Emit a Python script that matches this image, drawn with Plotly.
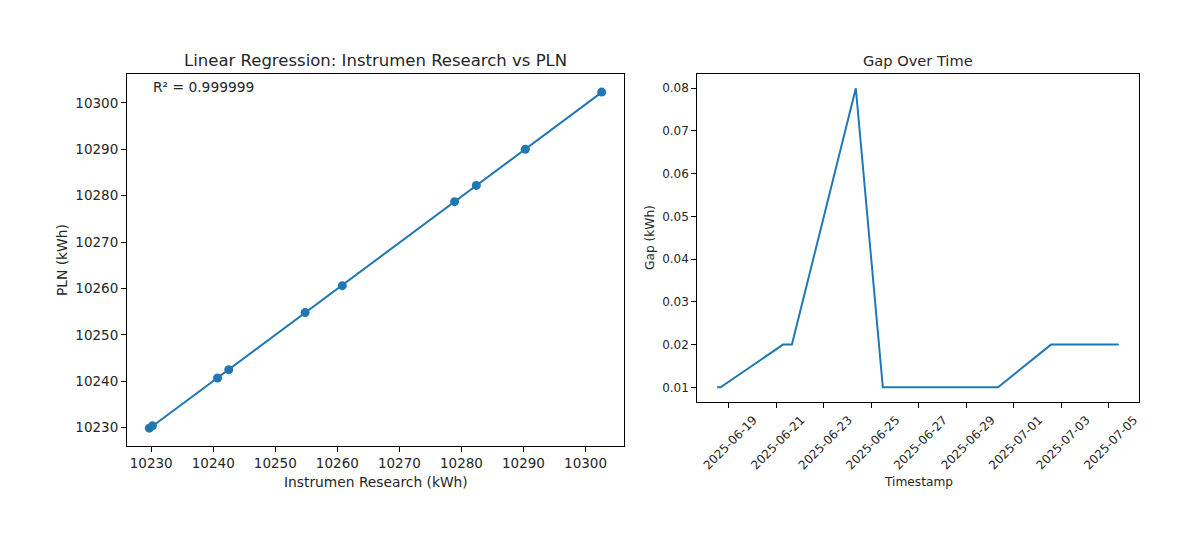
import numpy as np
import plotly.graph_objects as go
from plotly.subplots import make_subplots

# page body has an 8px margin, so the figure is drawn a bit smaller and offset
PAD = 8
W, H = 1204 - 2 * PAD, 544 - 2 * PAD

# readings (kWh) from both meters
instrumen = [10229.7, 10230.2, 10240.7, 10242.5, 10254.8, 10260.8, 10278.9, 10282.4, 10290.3, 10302.6]
pln = [10229.9, 10230.4, 10240.7, 10242.5, 10254.8, 10260.6, 10278.7, 10282.2, 10290.0, 10302.3]

# gap over time
timestamps = ["2025-06-18 12:30", "2025-06-18 16:00", "2025-06-21 07:00", "2025-06-21 16:00",
              "2025-06-24 08:30", "2025-06-25 11:45", "2025-06-30 08:00", "2025-07-02 13:30",
              "2025-07-03 16:00", "2025-07-05 09:50"]
gap = [0.01, 0.01, 0.02, 0.02, 0.08, 0.01, 0.01, 0.02, 0.02, 0.02]

r2_text = "R² = 0.999999"

BLUE = "#1f77b4"
FONT = "DejaVu Sans"
TXT = "#262626"


def px_x(v):
    return (v - PAD) / W


def px_y(v):
    return 1 - (v - PAD) / H


# regression line
slope, intercept = np.polyfit(instrumen, pln, 1)
x_fit = np.array([min(instrumen), max(instrumen)])
y_fit = slope * x_fit + intercept

fig = make_subplots(rows=1, cols=2)

fig.add_trace(go.Scatter(x=x_fit, y=y_fit, mode="lines",
                         line=dict(color=BLUE, width=2), showlegend=False), row=1, col=1)
fig.add_trace(go.Scatter(x=instrumen, y=pln, mode="markers",
                         marker=dict(color=BLUE, size=9), showlegend=False), row=1, col=1)
fig.add_trace(go.Scatter(x=timestamps, y=gap, mode="lines",
                         line=dict(color=BLUE, width=2), showlegend=False), row=1, col=2)

axis_common = dict(showgrid=False, zeroline=False, showline=True, mirror=True,
                   linecolor="black", linewidth=1, ticks="outside", ticklen=5,
                   tickcolor="black", tickwidth=1, automargin=False)

fig.update_xaxes(axis_common, row=1, col=1)
fig.update_yaxes(axis_common, row=1, col=1)
fig.update_xaxes(axis_common, row=1, col=2)
fig.update_yaxes(axis_common, row=1, col=2)

fig.update_layout(
    width=W, height=H,
    margin=dict(l=0, r=0, t=0, b=0),
    paper_bgcolor="white", plot_bgcolor="white",
    font=dict(family=FONT, color=TXT),
    xaxis=dict(domain=[px_x(127), px_x(624)], range=[10226.1, 10306.2],
               tickmode="linear", tick0=10230, dtick=10, tickformat="d",
               tickfont=dict(size=13.5, color=TXT)),
    yaxis=dict(domain=[px_y(446), px_y(74)], range=[10226.06, 10306.2],
               tickmode="linear", tick0=10230, dtick=10, tickformat="d",
               tickfont=dict(size=13.5, color=TXT)),
    xaxis2=dict(domain=[px_x(697.3), px_x(1138.7)],
                range=["2025-06-17 16:30", "2025-07-06 06:00"],
                tickmode="linear", tick0="2025-06-19", dtick=2 * 86400000,
                tickformat="%Y-%m-%d", tickangle=-45,
                ticklabelshift=25,
                tickfont=dict(size=12, color=TXT)),
    yaxis2=dict(domain=[px_y(402.3), px_y(73.7)], range=[0.0065, 0.0834],
                tickmode="linear", tick0=0.01, dtick=0.01, tickformat=".2f",
                tickfont=dict(size=12, color=TXT)),
)

annots = [
    dict(text="Linear Regression: Instrumen Research vs PLN", x=px_x(375.5), y=px_y(60.5),
         font=dict(size=16.5)),
    dict(text="Gap Over Time", x=px_x(918), y=px_y(61), font=dict(size=14.6)),
    dict(text="Instrumen Research (kWh)", x=px_x(375.5), y=px_y(482), font=dict(size=13.8)),
    dict(text="PLN (kWh)", x=px_x(62), y=px_y(260), font=dict(size=13.8), textangle=-90),
    dict(text="Timestamp", x=px_x(918), y=px_y(481.5), font=dict(size=12.2)),
    dict(text="Gap (kWh)", x=px_x(650), y=px_y(238), font=dict(size=12.2), textangle=-90),
    dict(text=r2_text, x=px_x(150.5), y=px_y(87), xanchor="left", font=dict(size=13.8)),
]
for a in annots:
    base = dict(xref="paper", yref="paper", showarrow=False, xanchor="center", yanchor="middle")
    base.update(a)
    base["font"] = dict(family=FONT, color=TXT, **a.get("font", {}))
    fig.add_annotation(**base)

fig.write_html("out.html")
